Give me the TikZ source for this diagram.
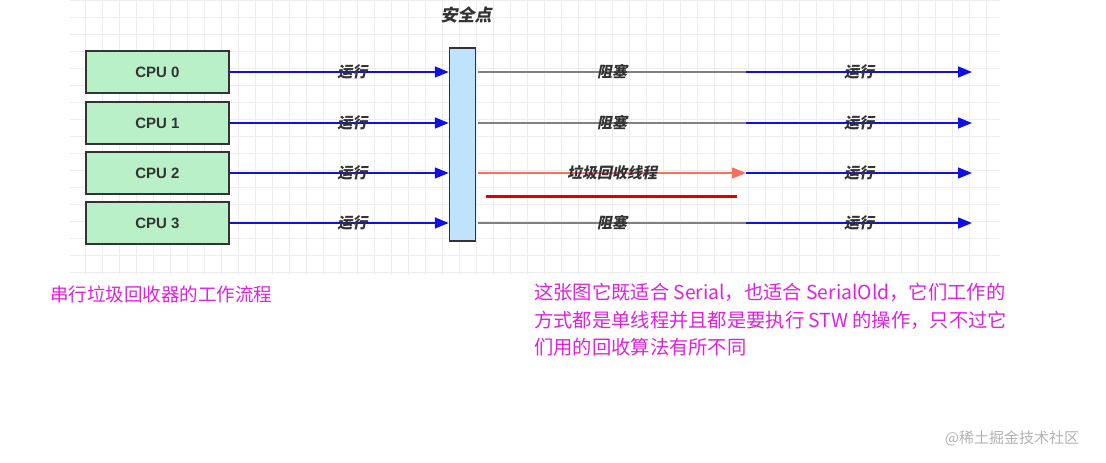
\documentclass[tikz,border=0pt]{standalone}
\usepackage{fontspec}
\setmainfont{Liberation Sans}
\newfontfamily\cjk{Noto Sans CJK SC}
\newfontfamily\lab[FakeSlant=0.2]{Noto Sans CJK SC}
\usetikzlibrary{arrows.meta}
\definecolor{cpugreen}{HTML}{B9F0C8}
\definecolor{barblue}{HTML}{BFE3FA}
\definecolor{runblue}{HTML}{1010E0}
\definecolor{salmon}{HTML}{F87060}
\definecolor{mag}{HTML}{E020E0}
\tikzset{
  cpu/.style={draw=black!80,line width=1.5pt,fill=cpugreen,minimum width=143pt,minimum height=42pt,font=\bfseries\fontsize{15}{17}\selectfont,text=black!80},
  lbl/.style={font=\lab\bfseries\fontsize{15}{17}\selectfont,text=black!80,inner sep=0pt},
  run/.style={draw=runblue,line width=1.6pt,-{Triangle[length=14pt,width=11pt]}},
  blk/.style={draw=gray,line width=1.6pt},
  note/.style={font=\cjk\fontsize{19.3}{27.5}\selectfont,text=mag,anchor=north west,align=left,inner sep=0pt}
}
\begin{document}
\begin{tikzpicture}[x=1pt,y=-1pt]
\useasboundingbox (0,0) rectangle (1106,463);
\draw[black!7,line width=0.6pt] (70,0) grid[step=17pt] (1000,275);
\node[font=\lab\bfseries\fontsize{17}{19}\selectfont,text=black!80] (title) at (466,15) {安全点};
\node[draw=black!80,line width=1.5pt,fill=barblue,minimum width=26pt,minimum height=193pt,inner sep=0pt] (bar) at (462.5,144.5) {};
\foreach \i/\y in {0/72,1/123,2/173,3/223}{
  \node[cpu] (c\i) at (157.5,\y) {CPU \i};
  \coordinate (b\i) at (bar.west |- c\i);
  \coordinate (s\i) at (478,\y);
  \coordinate (m\i) at (746,\y);
  \coordinate (e\i) at (972,\y);
  \draw[run] (c\i.east) -- (b\i) node[lbl,pos=0.56]{运行};
  \draw[run] (m\i) -- (e\i) node[lbl,pos=0.5]{运行};
}
\draw[blk] (s0) -- (m0) node[lbl,pos=0.5]{阻塞};
\draw[blk] (s1) -- (m1) node[lbl,pos=0.5]{阻塞};
\draw[blk] (s3) -- (m3) node[lbl,pos=0.5]{阻塞};
\draw[draw=salmon,line width=1.6pt,-{Triangle[length=14pt,width=11pt]}] (s2) -- (m2) node[lbl,pos=0.5]{垃圾回收线程};
\coordinate (r1) at (486,196); \coordinate (r2) at (737,196);
\draw[red!90!black,line width=3pt] (r1) -- (r2);
\node[note,font=\cjk\fontsize{18.5}{27}\selectfont] (n1) at (50,286) {串行垃圾回收器的工作流程};
\node[note] (n2) at (534,283) {这张图它既适合 Serial，也适合 SerialOld，它们工作的\\方式都是单线程并且都是要执行 STW 的操作，只不过它\\们用的回收算法有所不同};
\node[font=\cjk\fontsize{15}{17}\selectfont,text=black!30] (wm) at (1012,438) {@稀土掘金技术社区};
\end{tikzpicture}
\end{document}
